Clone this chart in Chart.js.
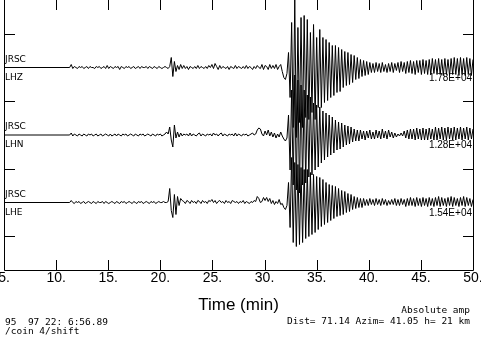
<!DOCTYPE html>
<html>
<head>
<meta charset="utf-8">
<script src="https://cdn.jsdelivr.net/npm/chart.js@4"></script>
<style>
  html, body { margin: 0; padding: 0; background: #fff; }
</style>
</head>
<body>
<canvas id="myChart" width="481" height="338"></canvas>
<script>
// station / channel info
const station = 'JRSC';
const channels = ['LHZ', 'LHN', 'LHE'];
const peakLabels = ['1.78E+04', '1.28E+04', '1.54E+04'];
const traceOffsets = [3, 2, 1];
const yTickValues = [0.5, 1.5, 2.5, 3.5];
const headerLeft = ['95  97 22: 6:56.89', '/coin 4/shift'];
const headerRight = ['Absolute amp', 'Dist= 71.14 Azim= 41.05 h= 21 km'];

const recordStart = 5;
const sampleStart = 11.3;
const sampleStep = 0.15;

// amplitudes in % of each trace's peak
const lhz = [
  0, 3, -1, 1, 0, -1, 1, 0, 1, -1,
  0, 1, -1, 1, 0, 0, -1, 1, 0, 1,
  -1, 0, 1, -1, 2, -1, 1, 0, -1, 1,
  0, 1, -2, 1, 0, -1, 1, 0, 1, -1,
  0, 1, -1, 0, 1, -1, 1, 0, 0, 1,
  -1, 1, 0, -1, 1, 0, -1, 1, 0, -1,
  0, 1, 0, -1, 1, 10, -9, 6, -4, 2,
  -2, 3, -1, 2, -1, 1, -2, 1, 0, -1,
  1, -1, 2, -1, 1, 0, -1, 1, -1, 2,
  0, 3, -1, 4, 1, -2, 2, -1, 1, 0,
  -1, 1, -2, 1, 0, -1, 2, -1, 1, 0,
  -1, 1, -1, 2, -1, 1, 0, -2, 1, -1,
  2, 0, -1, 3, -2, 2, 1, -2, 3, -1,
  2, -1, 3, -2, 1, 3, -4, -10, -12, -6,
  15, -30, 45, -60, 68, -70, 40, -55, 50, -60,
  52, -50, 48, -52, 35, -45, 43, -52, 30, -40,
  38, -40, 30, -35, 28, -33, 25, -30, 22, -28,
  22, -25, 20, -24, 18, -20, 16, -18, 15, -17,
  13, -15, 12, -12, 10, -11, 8, -9, 7, -8,
  6, -7, 5, -5, 4, -5, 5, -4, 4, -5,
  5, -4, 3, -5, 4, -4, 5, -5, 4, -3,
  5, -5, 6, -4, 5, -6, 6, -5, 7, -6,
  6, -7, 7, -5, 7, -7, 8, -6, 7, -7,
  8, -7, 9, -6, 8, -7, 9, -7, 8, -8,
  9, -7, 8, -8, 9, -7, 10, -7, 9, -8,
  10, -7, 9, -8, 10, -7, 9, -8, 8
];
const lhn = [
  0, 2, -1, 1, 0, -1, 1, 0, -1, 1,
  0, -1, 1, 0, 1, -1, 0, 1, -1, 0,
  1, -1, 0, 1, 0, -1, 1, -1, 0, 1,
  -1, 1, 0, -1, 1, 0, 1, -1, 0, 1,
  0, -1, 1, 0, -1, 1, 0, 1, -1, 0,
  1, 0, -1, 1, 0, -1, 1, 0, 1, -1,
  0, 1, 3, 1, 8, -5, -12, 10, -3, 3,
  -2, 2, -1, 1, 0, 1, -1, 2, -1, 1,
  0, -1, 1, 2, -1, 1, 0, -1, 1, 0,
  1, -1, 2, 0, 1, -1, 1, 2, -1, 1,
  0, -1, 1, 0, 1, -1, 2, -1, 1, 0,
  -1, 1, 0, 1, -1, 0, 1, 2, 0, 1,
  5, 7, 6, 1, -1, 4, 0, 5, -1, 3,
  -2, 2, -3, 1, -2, 3, -1, -4, -6, -3,
  20, -35, 45, -50, 60, -55, 55, -58, 50, -50,
  45, -48, 40, -42, 38, -40, 32, -35, 30, -32,
  28, -28, 24, -25, 22, -22, 20, -20, 18, -18,
  15, -15, 13, -14, 12, -12, 10, -10, 9, -9,
  8, -7, 6, -6, 5, -6, 5, -4, 4, -5,
  4, -3, 5, -4, 3, -4, 5, -3, 4, -4,
  6, -3, 4, -4, 5, -2, 3, -3, 2, -2,
  1, -1, 2, -1, 4, -3, 5, -4, 6, -4,
  6, -5, 7, -4, 6, -5, 7, -5, 6, -5,
  7, -4, 6, -5, 8, -5, 7, -4, 8, -5,
  7, -5, 8, -4, 7, -5, 8, -5, 7, -4,
  8, -5, 7, -4, 8, -5, 7, -4, 6
];
const lhe = [
  0, 2, 0, -1, 1, 0, 1, -1, 0, 1,
  -1, 0, 1, 0, -1, 1, 0, -1, 1, 0,
  0, 1, -1, 1, 0, -1, 0, 1, 0, -1,
  1, 0, -1, 1, 0, 1, -1, 0, 1, 0,
  -1, 1, 0, -1, 1, 0, 1, -1, 0, 1,
  0, -1, 1, 0, 1, -1, 0, 1, 0, 0,
  1, 0, 0, 1, 14, -8, -15, 8, -12, 6,
  -3, 4, 2, 1, -1, 2, 1, -1, 2, 0,
  1, -1, 2, 1, -1, 2, 0, 1, -1, 2,
  1, 3, 0, 2, -1, 1, 2, 0, 1, -1,
  2, 0, 1, -1, 2, 1, 0, 1, -1, 1,
  0, 2, -1, 1, 0, -1, 1, 0, 2, 1,
  6, 4, 0, 1, 5, 2, 5, 1, 4, -1,
  2, -2, 1, -1, 3, -2, -1, -5, -7, -3,
  20, -25, 45, -40, 40, -44, 38, -42, 35, -40,
  33, -36, 33, -34, 30, -32, 28, -30, 26, -27,
  25, -24, 23, -22, 20, -20, 18, -18, 17, -16,
  16, -14, 14, -13, 12, -12, 11, -10, 9, -9,
  8, -7, 6, -6, 5, -5, 4, -5, 4, -3,
  3, -3, 4, -2, 3, -3, 4, -2, 3, -3,
  4, -2, 3, -3, 2, -2, 3, -2, 4, -3,
  3, -3, 4, -2, 3, -4, 4, -3, 5, -3,
  4, -4, 5, -3, 4, -4, 5, -3, 4, -4,
  5, -3, 4, -4, 5, -3, 6, -4, 5, -3,
  4, -4, 5, -3, 6, -4, 5, -3, 4, -4,
  5, -3, 6, -4, 5, -3, 4, -4, 3
];

// trace gain: 100 % of the peak spans about 1.48 trace spacings
const traceGain = 1 / 67.5;

// each trace sits on its own baseline
const makeTrace = (values, offset) => {
  const pts = [{ x: recordStart, y: offset }];
  values.forEach((v, i) => {
    pts.push({ x: sampleStart + i * sampleStep, y: offset + v * traceGain });
  });
  return pts;
};

const traces = [lhz, lhn, lhe];

// frame with inward ticks, like the old SAC plot
const framePlugin = {
  id: 'frame',
  afterDraw(chart) {
    const { ctx, chartArea, scales } = chart;
    const { left, right, top, bottom } = chartArea;
    ctx.save();
    ctx.strokeStyle = '#000';
    ctx.lineWidth = 1;
    ctx.beginPath();
    ctx.moveTo(left + 0.5, top);
    ctx.lineTo(left + 0.5, bottom + 0.5);
    ctx.lineTo(right + 0.5, bottom + 0.5);
    ctx.lineTo(right + 0.5, top);
    scales.x.ticks.forEach(t => {
      const px = Math.round(scales.x.getPixelForValue(t.value)) + 0.5;
      ctx.moveTo(px, top);
      ctx.lineTo(px, top + 10);
      ctx.moveTo(px, bottom);
      ctx.lineTo(px, bottom - 10);
    });
    yTickValues.forEach(v => {
      const py = Math.round(scales.y.getPixelForValue(v)) + 0.5;
      ctx.moveTo(left, py);
      ctx.lineTo(left + 11, py);
      ctx.moveTo(right, py);
      ctx.lineTo(right - 10, py);
    });
    ctx.stroke();
    ctx.restore();
  }
};

// station / channel names, peak amplitudes and header lines
const labelPlugin = {
  id: 'labels',
  beforeDatasetsDraw(chart) {
    const { ctx, chartArea, scales } = chart;
    ctx.save();
    ctx.fillStyle = '#000';
    ctx.textBaseline = 'alphabetic';
    channels.forEach((ch, k) => {
      const yb = scales.y.getPixelForValue(traceOffsets[k]);
      ctx.font = '9px "DejaVu Sans"';
      ctx.textAlign = 'left';
      ctx.fillText(station, chartArea.left + 1, yb - 6);
      ctx.fillText(ch, chartArea.left + 1, yb + 12);
      ctx.font = '10px "Liberation Sans"';
      ctx.textAlign = 'right';
      ctx.fillText(peakLabels[k], chartArea.right - 1, yb + 13);
    });
    ctx.restore();
  },
  afterDraw(chart) {
    const { ctx } = chart;
    ctx.save();
    ctx.fillStyle = '#000';
    ctx.font = '9.5px "DejaVu Sans Mono"';
    ctx.textAlign = 'left';
    ctx.fillText(headerLeft[0], 5, 325);
    ctx.fillText(headerLeft[1], 5, 334);
    ctx.textAlign = 'right';
    ctx.fillText(headerRight[0], 470, 313);
    ctx.fillText(headerRight[1], 470, 324);
    ctx.restore();
  }
};

const ctx = document.getElementById('myChart').getContext('2d');
new Chart(ctx, {
  type: 'line',
  data: {
    datasets: traces.map((vals, k) => ({
      label: channels[k],
      data: makeTrace(vals, traceOffsets[k]),
      borderColor: '#000',
      borderWidth: 1,
      pointRadius: 0,
      tension: 0,
      fill: false
    }))
  },
  options: {
    responsive: false,
    animation: false,
    layout: { padding: { left: 4, right: 8, top: 0, bottom: 22 } },
    plugins: {
      legend: { display: false },
      tooltip: { enabled: false }
    },
    scales: {
      x: {
        type: 'linear',
        min: 5,
        max: 50,
        grid: { display: false, drawTicks: false },
        border: { display: false },
        ticks: {
          stepSize: 5,
          autoSkip: false,
          maxRotation: 0,
          padding: 0,
          color: '#000',
          font: { family: 'Liberation Sans', size: 14 },
          callback: v => v + '.'
        },
        title: {
          display: true,
          text: 'Time (min)',
          color: '#000',
          padding: 0,
          font: { family: 'Liberation Sans', size: 17 }
        },
        afterFit: s => {
          s.height = 46;
          s.paddingLeft = 0;
          s.paddingRight = 0;
        }
      },
      y: { display: false, min: 0, max: 4 }
    }
  },
  plugins: [framePlugin, labelPlugin]
});
</script>
</body>
</html>
